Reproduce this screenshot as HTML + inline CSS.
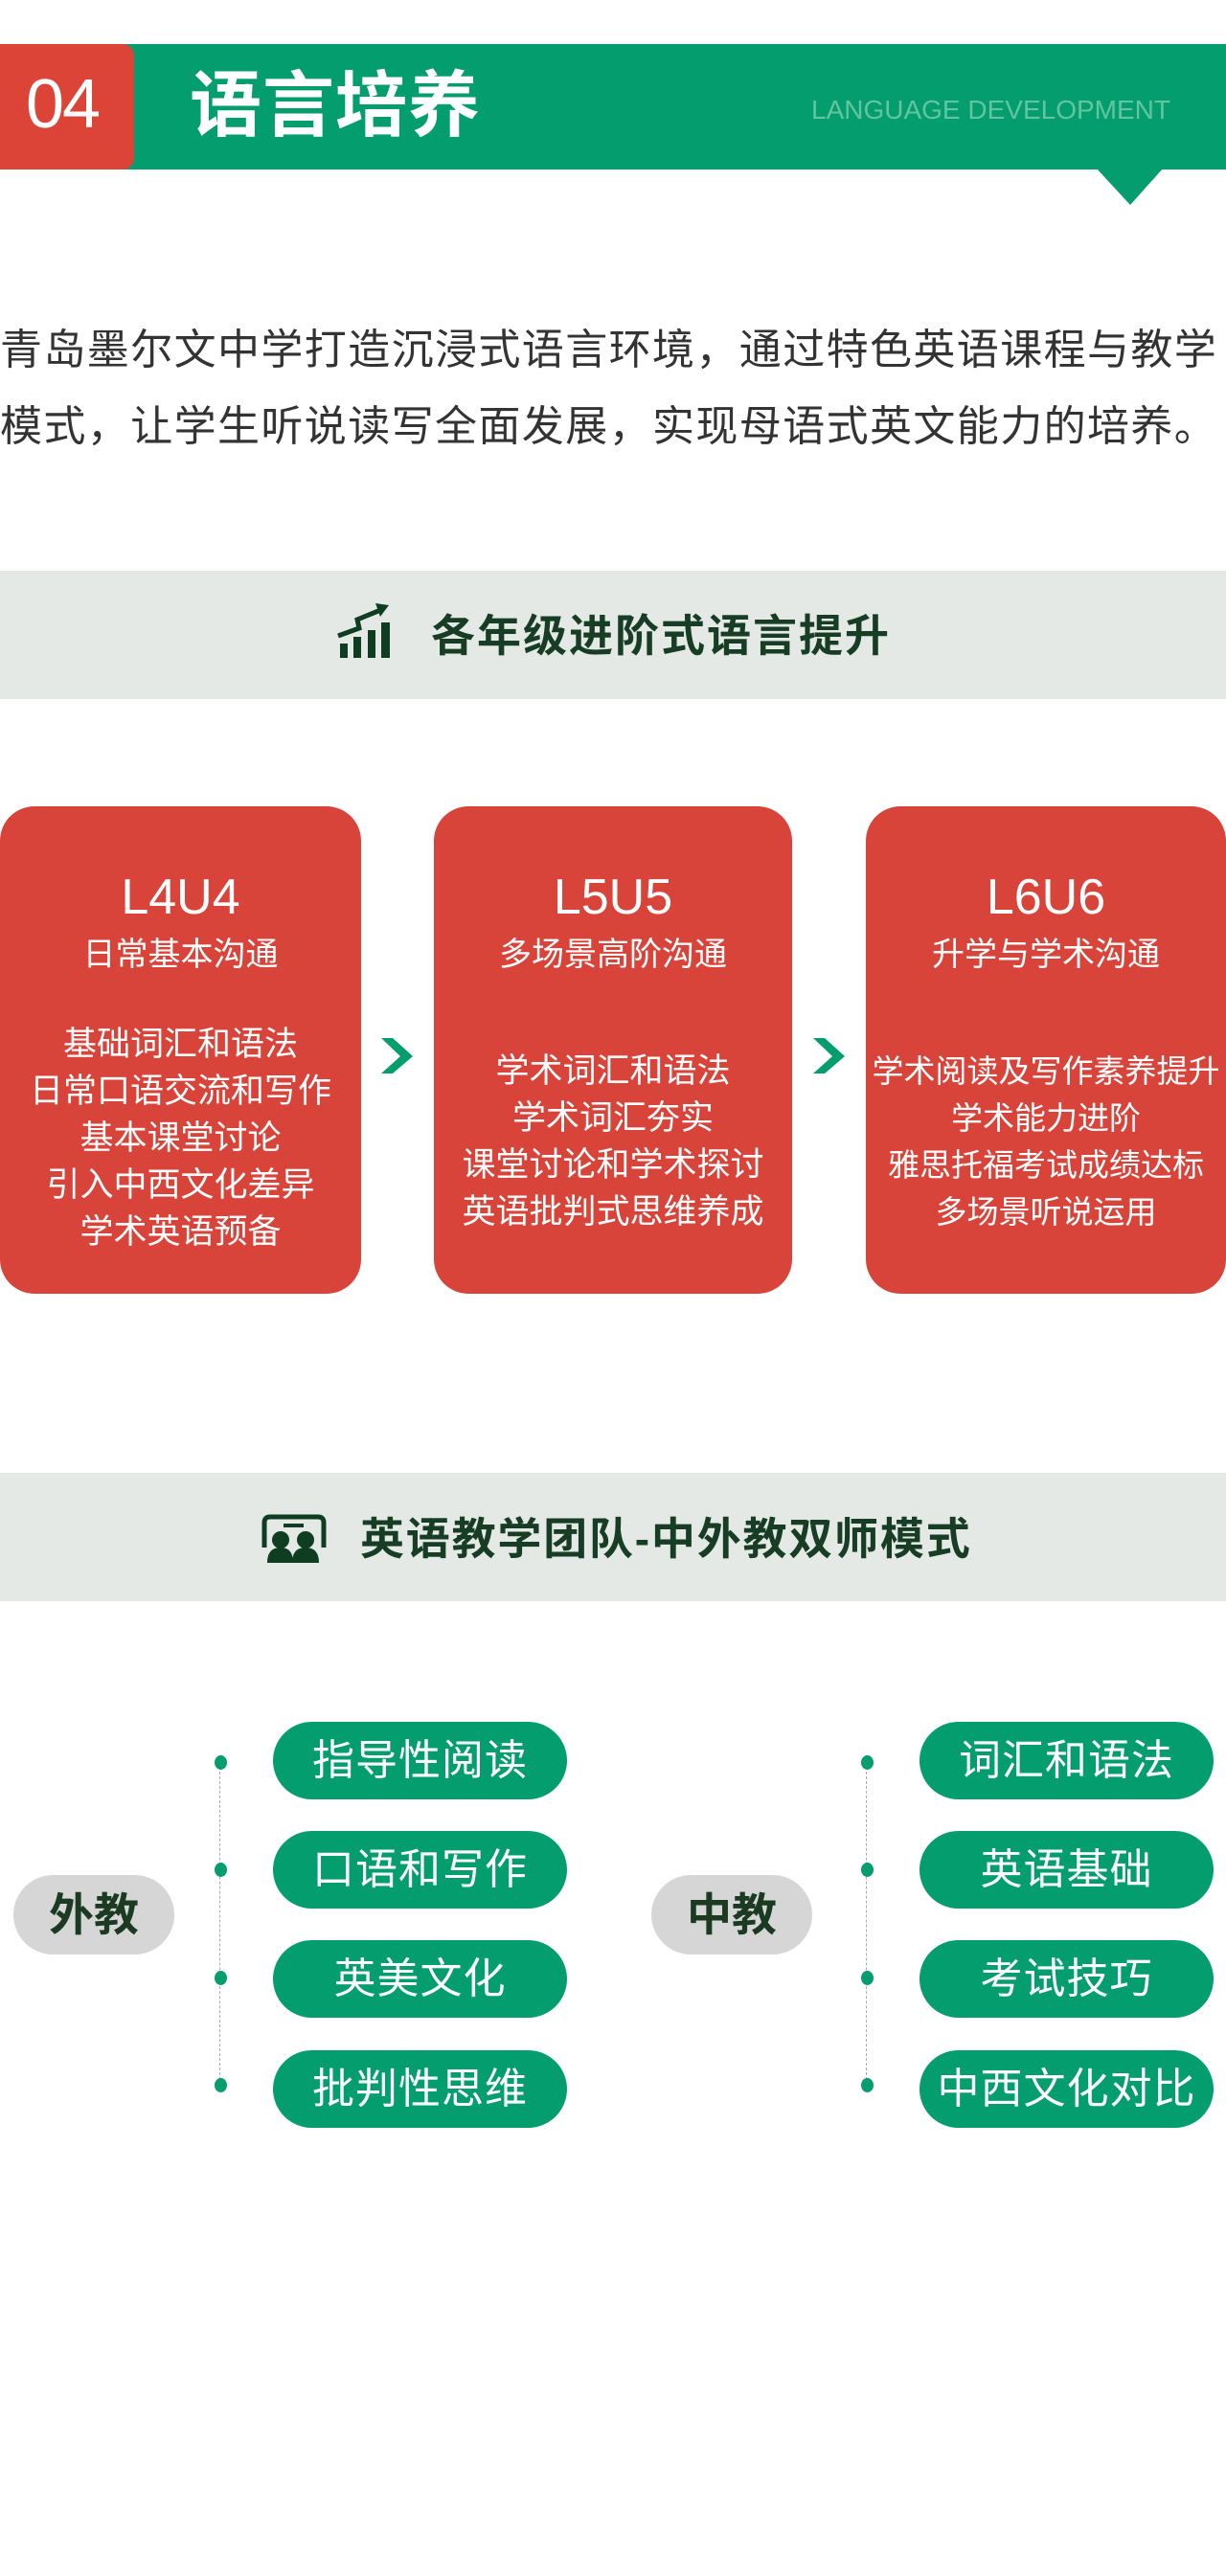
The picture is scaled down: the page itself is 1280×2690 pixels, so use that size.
<!DOCTYPE html>
<html><head><meta charset="utf-8"><style>
*{margin:0;padding:0;box-sizing:border-box}
body{width:1280px;height:2690px;background:#fff;position:relative;overflow:hidden;font-family:"Liberation Sans","Noto Sans CJK SC",sans-serif}
.a{position:absolute}
.card{position:absolute;top:842px;height:509px;background:#d9443a;border-radius:36px}
.ln{position:absolute;text-align:center;color:#fff;white-space:nowrap}
.pill{position:absolute;width:307px;height:81px;border-radius:41px;background:#039d6e;color:#fff;font-size:44px;line-height:81px;text-align:center;white-space:nowrap;letter-spacing:1px}
.dot{position:absolute;width:13px;height:15px;border-radius:50%;background:#039d6e}
.bub{position:absolute;top:1958px;width:168px;height:83px;border-radius:42px;background:#d6d6d6;color:#1b3a22;font-size:47px;font-weight:bold;line-height:83px;text-align:center}
</style></head><body>
<div class="a" style="left:0;top:46px;width:1280px;height:131px;background:#039d6e"></div>
<div class="a" style="left:0;top:46px;width:140px;height:131px;background:#db4437;border-radius:0 12px 12px 0"></div>
<svg class="a" style="left:1145px;top:176px" width="70" height="40"><polygon points="0,0 69,0 35,38" fill="#039d6e"/></svg>
<div class="a" style="left:27px;top:66px;font-size:72px;line-height:86px;color:#fff;letter-spacing:-2px">04</div>
<div class="a" style="left:198px;top:66px;font-size:75px;line-height:88px;color:#fff;font-weight:bold;letter-spacing:1px">语言培养</div>
<div class="a" style="left:847px;top:99px;font-size:28px;line-height:32px;color:#63c59f;white-space:nowrap">LANGUAGE DEVELOPMENT</div>

<div class="a" style="left:0;top:326px;width:1290px;font-size:44px;line-height:80px;color:#333;letter-spacing:1.4px;white-space:nowrap">青岛墨尔文中学打造沉浸式语言环境，通过特色英语课程与教学<br>模式，让学生听说读写全面发展，实现母语式英文能力的培养。</div>

<div class="a" style="left:0;top:596px;width:1280px;height:134px;background:#e5e9e5"></div>
<svg class="a" style="left:340px;top:620px" width="80" height="80" fill="#0f3d22">
<rect x="15" y="52" width="8" height="15"/><rect x="29" y="45" width="8" height="22"/><rect x="44" y="38" width="8" height="29"/><rect x="58" y="30" width="9" height="37"/>
<polyline points="13,44 35,36 33,27 55,18" stroke="#0f3d22" stroke-width="5" fill="none"/><polygon points="52,10 66,12 57,24"/></svg>
<div class="a" style="left:450px;top:636px;font-size:46px;line-height:56px;font-weight:bold;color:#173d24;letter-spacing:2px">各年级进阶式语言提升</div>

<div class="card" style="left:0;width:377px"></div>
<div class="card" style="left:453px;width:374px"></div>
<div class="card" style="left:904px;width:376px"></div>
<div class="ln" style="left:0;width:377px;top:907px;font-size:52px;line-height:60px">L4U4</div>
<div class="ln" style="left:0;width:377px;top:977px;font-size:34px;line-height:40px">日常基本沟通</div>
<div class="ln" style="left:0;width:377px;top:1066px;font-size:35px;line-height:49px">基础词汇和语法<br>日常口语交流和写作<br>基本课堂讨论<br>引入中西文化差异<br>学术英语预备</div>
<div class="ln" style="left:453px;width:374px;top:907px;font-size:52px;line-height:60px">L5U5</div>
<div class="ln" style="left:453px;width:374px;top:977px;font-size:34px;line-height:40px">多场景高阶沟通</div>
<div class="ln" style="left:453px;width:374px;top:1094px;font-size:35px;line-height:49px">学术词汇和语法<br>学术词汇夯实<br>课堂讨论和学术探讨<br>英语批判式思维养成</div>
<div class="ln" style="left:904px;width:376px;top:907px;font-size:52px;line-height:60px">L6U6</div>
<div class="ln" style="left:904px;width:376px;top:977px;font-size:34px;line-height:40px">升学与学术沟通</div>
<div class="ln" style="left:904px;width:376px;top:1094px;font-size:33px;line-height:49px">学术阅读及写作素养提升<br>学术能力进阶<br>雅思托福考试成绩达标<br>多场景听说运用</div>
<svg class="a" style="left:398px;top:1084px" width="34" height="38"><polygon points="0,0 12,0 33,19 12,37 0,37 20,19" fill="#039d6e"/></svg>
<svg class="a" style="left:849px;top:1084px" width="34" height="38"><polygon points="0,0 12,0 33,19 12,37 0,37 20,19" fill="#039d6e"/></svg>

<div class="a" style="left:0;top:1538px;width:1280px;height:134px;background:#e5e9e5"></div>
<svg class="a" style="left:260px;top:1570px" width="90" height="80" fill="#0f3d22">
<path d="M16,46 V20 Q16,14 22,14 H72 Q78,14 78,20 V46" stroke="#0f3d22" stroke-width="5" fill="none"/>
<rect x="36" y="21" width="21" height="4"/>
<circle cx="33" cy="38" r="9"/><circle cx="59" cy="38" r="9"/>
<path d="M19,62 Q19,46 33,46 Q46,46 46,62Z"/><path d="M45,62 Q45,46 59,46 Q73,46 73,62Z"/></svg>
<div class="a" style="left:376px;top:1579px;font-size:46px;line-height:56px;font-weight:bold;color:#173d24;letter-spacing:1.8px">英语教学团队-中外教双师模式</div>

<div class="a" style="left:229px;top:1840px;height:337px;border-left:1.5px dashed #aaa"></div>
<div class="a" style="left:904px;top:1840px;height:337px;border-left:1.5px dashed #aaa"></div>
<div class="dot" style="left:224px;top:1833px"></div><div class="dot" style="left:224px;top:1945px"></div><div class="dot" style="left:224px;top:2058px"></div><div class="dot" style="left:224px;top:2170px"></div>
<div class="dot" style="left:899px;top:1833px"></div><div class="dot" style="left:899px;top:1945px"></div><div class="dot" style="left:899px;top:2058px"></div><div class="dot" style="left:899px;top:2170px"></div>
<div class="bub" style="left:14px">外教</div>
<div class="bub" style="left:680px">中教</div>
<div class="pill" style="left:285px;top:1798px">指导性阅读</div>
<div class="pill" style="left:285px;top:1912px">口语和写作</div>
<div class="pill" style="left:285px;top:2026px">英美文化</div>
<div class="pill" style="left:285px;top:2141px">批判性思维</div>
<div class="pill" style="left:960px;top:1798px">词汇和语法</div>
<div class="pill" style="left:960px;top:1912px">英语基础</div>
<div class="pill" style="left:960px;top:2026px">考试技巧</div>
<div class="pill" style="left:960px;top:2141px">中西文化对比</div>
</body></html>
